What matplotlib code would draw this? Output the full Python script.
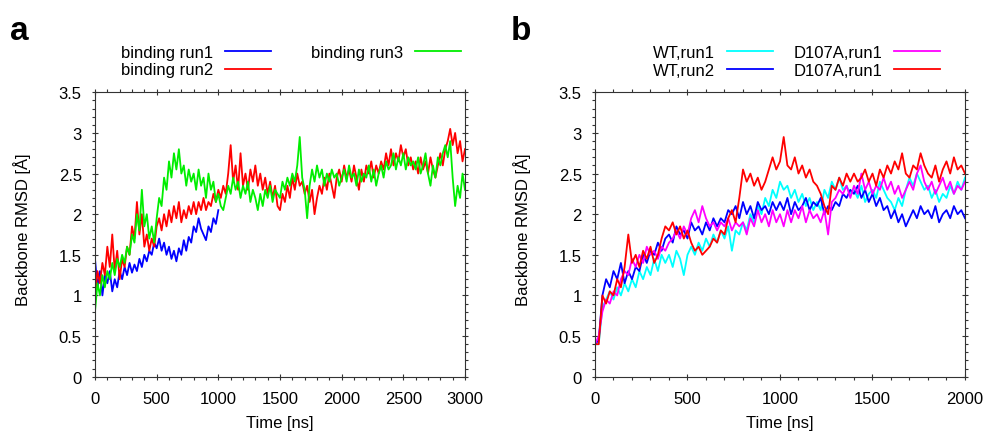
import numpy as np
import matplotlib
matplotlib.use("Agg")
import matplotlib.pyplot as plt
from matplotlib.ticker import MultipleLocator

plt.rcParams["font.family"] = ["Liberation Sans", "DejaVu Sans"]
plt.rcParams["font.size"] = 12

time_a = np.arange(0, 3001, 20)
time_a_run1 = np.arange(0, 1001, 20)

binding_run1 = [
    1.45, 1.1, 1.3, 1.0, 1.25, 1.15, 1.3, 1.05, 1.2, 1.1,
    1.3, 1.2, 1.35, 1.25, 1.4, 1.28, 1.38, 1.3, 1.45, 1.35,
    1.5, 1.42, 1.55, 1.5, 1.65, 1.58, 1.7, 1.55, 1.65, 1.5,
    1.6, 1.45, 1.55, 1.42, 1.58, 1.5, 1.68, 1.55, 1.72, 1.65,
    1.85, 1.78, 1.95, 1.82, 1.75, 1.68, 1.85, 1.78, 1.95, 1.88,
    2.05,
]
binding_run2 = [
    1.0, 1.3, 1.15, 1.4, 1.25, 1.6, 1.35, 1.75, 1.3, 1.55,
    1.2, 1.45, 1.35, 1.6, 1.5, 1.85, 1.7, 2.15, 1.75, 2.0,
    1.6, 1.75, 1.55, 1.7, 1.6, 1.85, 1.95, 1.8, 2.0, 1.85,
    2.05, 1.9, 2.1, 1.95, 2.15, 1.9, 2.05, 1.95, 2.1, 2.0,
    2.15, 2.0, 2.15, 2.05, 2.2, 2.05, 2.15, 2.1, 2.25, 2.15,
    2.3, 2.2, 2.35, 2.25, 2.5, 2.85, 2.4, 2.6, 2.3, 2.75,
    2.35, 2.5, 2.3, 2.55, 2.4, 2.6, 2.35, 2.5, 2.3, 2.45,
    2.25, 2.4, 2.2, 2.35, 2.1, 2.05, 2.25, 2.15, 2.35, 2.2,
    2.45, 2.3, 2.5, 2.35, 2.4, 2.25, 2.35, 2.15, 2.3, 2.0,
    2.2, 2.35, 2.25, 2.45, 2.3, 2.5, 2.35, 2.2, 2.45, 2.55,
    2.4, 2.6, 2.45, 2.55, 2.4, 2.6, 2.45, 2.3, 2.55, 2.4,
    2.6, 2.5, 2.65, 2.45, 2.6, 2.5, 2.65, 2.55, 2.75, 2.6,
    2.8, 2.6, 2.75, 2.65, 2.85, 2.7, 2.8, 2.6, 2.7, 2.55,
    2.65, 2.5, 2.7, 2.55, 2.65, 2.5, 2.7, 2.55, 2.45, 2.6,
    2.75, 2.6, 2.8, 2.9, 3.05, 2.85, 3.0, 2.75, 2.9, 2.65,
    2.8,
]
binding_run3 = [
    0.8, 1.15, 1.0, 1.25, 1.1, 1.3, 1.2, 1.4, 1.25, 1.45,
    1.35, 1.5, 1.4, 1.6, 1.5, 1.75, 1.65, 2.0, 1.8, 2.3,
    1.85, 2.0, 1.7, 1.85, 1.65, 1.95, 2.2, 2.1, 2.45, 2.3,
    2.65, 2.45, 2.75, 2.55, 2.8, 2.5, 2.6, 2.35, 2.55, 2.4,
    2.5, 2.3, 2.55, 2.35, 2.45, 2.2, 2.5, 2.3, 2.4, 2.15,
    2.25, 2.1, 2.05, 2.2, 2.35, 2.25, 2.45, 2.3, 2.4, 2.2,
    2.35, 2.25, 2.4, 2.15, 2.3, 2.2, 2.05, 2.25, 2.1, 2.3,
    2.2, 2.35, 2.15, 2.3, 2.25, 2.2, 2.4, 2.3, 2.45, 2.35,
    2.5, 2.4, 2.6, 2.95, 2.45, 2.3, 1.95, 2.35, 2.55, 2.4,
    2.6, 2.45, 2.55, 2.35, 2.5, 2.4, 2.55, 2.45, 2.5, 2.35,
    2.45, 2.55, 2.4, 2.6, 2.45, 2.5, 2.35, 2.55, 2.4, 2.5,
    2.45, 2.6, 2.4, 2.55, 2.35, 2.5, 2.6, 2.45, 2.65, 2.55,
    2.6, 2.75, 2.55, 2.7, 2.6, 2.75, 2.55, 2.7, 2.6, 2.65,
    2.55, 2.7, 2.5, 2.6, 2.75, 2.5, 2.35, 2.6, 2.45, 2.7,
    2.6, 2.75, 2.85, 2.7, 2.9, 2.45, 2.1, 2.35, 2.2, 2.5,
    2.3,
]

# panel b: WT vs D107A, sampled every 20 ns
time_b = np.arange(0, 2001, 20)

wt_run1 = [
    0.4, 0.4, 0.85, 0.95, 1.05, 0.95, 1.1, 1.0, 1.15, 1.05,
    1.2, 1.1, 1.3, 1.2, 1.35, 1.25, 1.45, 1.3, 1.5, 1.4,
    1.5, 1.35, 1.55, 1.45, 1.25, 1.5, 1.6, 1.5, 1.65, 1.55,
    1.7, 1.6, 1.75, 1.65, 1.8, 1.7, 1.85, 1.55, 1.8, 1.75,
    1.9, 1.8, 2.0, 1.9, 2.1, 2.0, 2.2, 2.1, 2.3, 2.2,
    2.4, 2.3, 2.35, 2.2, 2.3, 2.15, 2.25, 2.1, 2.2, 2.05,
    2.15, 2.05, 2.3, 2.2, 2.4, 2.3, 2.45, 2.3, 2.35, 2.25,
    2.3, 2.2, 2.35, 2.15, 2.25, 2.3, 2.2, 2.4, 2.3, 2.2,
    2.15, 2.05, 2.2, 2.1, 2.3, 2.45, 2.35, 2.5, 2.4, 2.3,
    2.35, 2.2, 2.3, 2.15, 2.25, 2.2, 2.35, 2.25, 2.4, 2.3,
    2.45,
]
wt_run2 = [
    0.4, 0.45, 1.0, 1.2, 1.1, 1.3, 1.2, 1.4, 1.15, 1.3,
    1.2, 1.35, 1.3, 1.5, 1.4, 1.55, 1.5, 1.65, 1.55, 1.7,
    1.75, 1.65, 1.85, 1.75, 1.8, 1.7, 1.9, 1.8, 1.85, 1.75,
    1.9, 1.8, 1.95, 1.85, 1.95, 1.9, 2.05, 2.0, 2.1, 1.95,
    2.15, 2.0, 2.1, 1.95, 2.15, 2.05, 2.1, 2.0, 2.15, 2.05,
    2.15, 2.05, 2.2, 2.0, 2.15, 2.05, 2.1, 2.2, 2.05, 2.15,
    2.1, 2.2, 2.0, 2.1, 2.05, 2.15, 2.1, 2.25, 2.2, 2.3,
    2.25, 2.35, 2.2, 2.3, 2.15, 2.25, 2.1, 2.2, 2.05, 2.1,
    1.95, 2.05, 1.9, 2.0, 1.85, 1.95, 2.05, 1.95, 2.1, 2.0,
    2.05, 1.95, 2.1, 1.9, 2.0, 2.05, 1.95, 2.1, 2.0, 2.05,
    1.95,
]
d107a_run1 = [
    0.4, 0.5, 0.8, 0.95, 0.9, 1.05, 1.0, 1.2, 1.3, 1.25,
    1.45, 1.35, 1.5, 1.4, 1.6, 1.5, 1.55, 1.45, 1.6, 1.55,
    1.65, 1.7, 1.8, 1.7, 1.85, 1.75, 1.95, 2.05, 1.9, 2.1,
    1.95, 1.85, 1.9, 1.8, 1.9, 1.85, 1.95, 1.8, 1.9, 1.85,
    1.9, 1.75, 1.95, 1.85, 2.05, 1.9, 2.0, 1.85, 2.05, 1.9,
    2.0, 1.85, 2.05, 1.9, 2.05, 1.95, 2.1, 1.9, 2.05, 1.95,
    2.0, 1.9, 2.05, 1.75, 2.15, 2.2, 2.3, 2.25, 2.35, 2.2,
    2.35, 2.25, 2.5, 2.3, 2.4, 2.25, 2.35, 2.3, 2.45, 2.3,
    2.4, 2.25, 2.35, 2.2, 2.3, 2.4, 2.3, 2.5, 2.6, 2.4,
    2.3, 2.4, 2.25, 2.35, 2.45, 2.3, 2.4, 2.25, 2.35, 2.3,
    2.4,
]
d107a_run1_b = [
    0.4, 0.4, 1.0, 0.9, 1.05, 1.0, 1.2, 1.1, 1.35, 1.75,
    1.4, 1.5, 1.35, 1.55, 1.45, 1.6, 1.4, 1.5, 1.7, 1.85,
    1.8, 1.9, 1.75, 1.85, 1.7, 1.8, 1.65, 1.55, 1.6, 1.5,
    1.55, 1.6, 1.7, 1.65, 1.8, 1.75, 1.95, 2.05, 1.9, 2.2,
    2.55, 2.4, 2.5, 2.35, 2.45, 2.3, 2.4, 2.55, 2.7, 2.55,
    2.65, 2.95, 2.6, 2.55, 2.7, 2.5, 2.6, 2.45, 2.55, 2.4,
    2.35, 2.25, 2.1, 2.0, 2.35, 2.3, 2.45, 2.35, 2.5, 2.4,
    2.5, 2.4, 2.45, 2.55, 2.4, 2.5, 2.35, 2.55, 2.45, 2.6,
    2.5, 2.65, 2.55, 2.75, 2.5, 2.45, 2.6, 2.55, 2.75, 2.6,
    2.5, 2.45, 2.6, 2.4, 2.55, 2.65, 2.5, 2.7, 2.55, 2.6,
    2.5,
]

W, H = 987, 435
fig = plt.figure(figsize=(W / 100, H / 100), dpi=100)
ax_a = fig.add_axes([95 / W, 1 - 377.7 / H, 370 / W, 284.4 / H])
ax_b = fig.add_axes([595 / W, 1 - 377.7 / H, 370 / W, 284.4 / H])

lw = 1.3
ax_a.plot(time_a_run1, binding_run1, color="#0000ff", lw=lw, label="binding run1")
ax_a.plot(time_a, binding_run2, color="#ff0000", lw=lw, label="binding run2")
ax_a.plot(time_a, binding_run3, color="#00ee00", lw=lw, label="binding run3")

ax_b.plot(time_b, wt_run1, color="#00ffff", lw=lw, label="WT,run1")
ax_b.plot(time_b, wt_run2, color="#0000ff", lw=lw, label="WT,run2")
ax_b.plot(time_b, d107a_run1, color="#ff00ff", lw=lw, label="D107A,run1")
ax_b.plot(time_b, d107a_run1_b, color="#ff0000", lw=lw, label="D107A,run1")

for ax, xmax in ((ax_a, 3000), (ax_b, 2000)):
    ax.set_xlim(0, xmax)
    ax.set_ylim(0, 3.5)
    ax.xaxis.set_major_locator(MultipleLocator(500))
    ax.xaxis.set_minor_locator(MultipleLocator(100))
    ax.yaxis.set_minor_locator(MultipleLocator(0.1))
    ax.set_yticks(np.arange(0, 3.51, 0.5))
    ax.set_yticklabels(["0", "0.5", "1", "1.5", "2", "2.5", "3", "3.5"])
    ax.tick_params(which="major", direction="inout", length=5, width=0.8,
                   top=True, right=True, labelsize=12, color="#333333")
    ax.tick_params(axis="x", which="major", pad=8)
    ax.tick_params(axis="y", which="major", pad=7)
    ax.tick_params(which="minor", direction="out", length=2, width=0.8,
                   top=True, right=True, color="#333333")
    for spine in ax.spines.values():
        spine.set_color("#333333")
        spine.set_linewidth(0.8)
    ax.set_xlabel("Time [ns]", fontsize=12)
    ax.set_ylabel("Backbone RMSD [Å]", fontsize=12)
    ax.xaxis.set_label_coords(0.5, -0.135)
    ax.yaxis.set_label_coords(-0.174, 0.52)

ax_a.legend(ncol=2, markerfirst=False, frameon=False, fontsize=12,
            handlelength=2.75, handletextpad=0.7, columnspacing=2.45,
            labelspacing=0.15, borderpad=0, borderaxespad=0,
            loc="upper right", bbox_to_anchor=(461 / W, 1 - 46 / H),
            bbox_transform=fig.transFigure)
ax_b.legend(ncol=2, markerfirst=False, frameon=False, fontsize=12,
            handlelength=2.75, handletextpad=0.7, columnspacing=1.26,
            labelspacing=0.15, borderpad=0, borderaxespad=0,
            loc="upper right", bbox_to_anchor=(940 / W, 1 - 46 / H),
            bbox_transform=fig.transFigure)

fig.text(10 / W, 1 - 40 / H, "a", fontsize=24, fontweight="bold")
fig.text(511 / W, 1 - 40 / H, "b", fontsize=24, fontweight="bold")

fig.savefig("out.png", dpi=100, facecolor="white")
